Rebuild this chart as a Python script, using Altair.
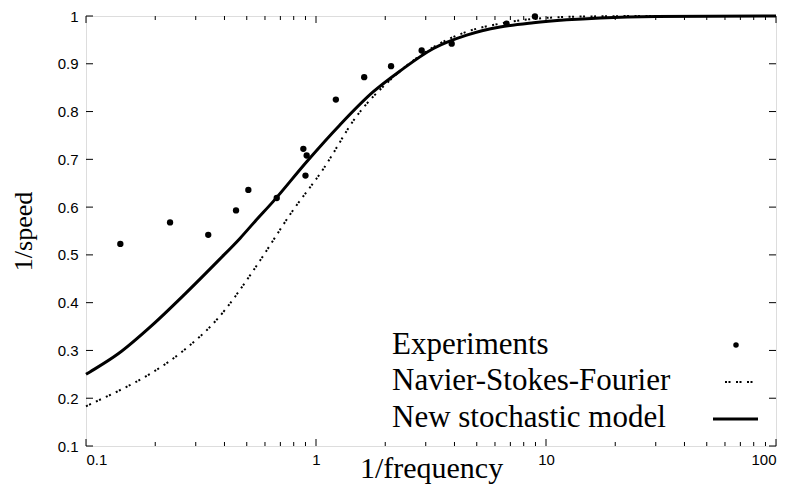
import altair as alt
import pandas as pd

# Experimental points
exp_x = [0.141, 0.232, 0.34, 0.449, 0.508, 0.675, 0.881, 0.911, 0.90, 1.22, 1.62, 2.12, 2.88, 3.89, 6.74, 8.95]
exp_y = [0.523, 0.568, 0.542, 0.593, 0.636, 0.619, 0.722, 0.708, 0.666, 0.825, 0.872, 0.895, 0.928, 0.942, 0.984, 0.999]

# Navier-Stokes-Fourier (dotted)
nsf_x = [0.1, 0.104, 0.138, 0.193, 0.269, 0.376, 0.525, 0.58, 0.77, 1.08, 1.5, 2.1, 3.24, 4.52, 6.31, 8.81, 15.0, 30.0, 100.0]
nsf_y = [0.183, 0.187, 0.215, 0.253, 0.302, 0.368, 0.462, 0.493, 0.584, 0.681, 0.790, 0.866, 0.935, 0.967, 0.984, 0.994, 0.999, 1.0, 1.0]

# New stochastic model (solid)
nsm_x = [0.1, 0.104, 0.138, 0.193, 0.269, 0.376, 0.468, 0.543, 0.652, 0.911, 1.27, 1.77, 2.32, 3.24, 4.52, 6.31, 8.81, 12.3, 17.2, 30.0, 100.0]
nsm_y = [0.250, 0.255, 0.293, 0.352, 0.418, 0.488, 0.535, 0.570, 0.612, 0.695, 0.772, 0.841, 0.885, 0.932, 0.960, 0.977, 0.986, 0.992, 0.996, 0.999, 1.0]

x_major = [0.1, 1, 10, 100]
x_minor = [0.2, 0.3, 0.4, 0.5, 0.6, 0.7, 0.8, 0.9, 2, 3, 4, 5, 6, 7, 8, 9, 20, 30, 40, 50, 60, 70, 80, 90]
y_ticks = [0.1, 0.2, 0.3, 0.4, 0.5, 0.6, 0.7, 0.8, 0.9, 1.0]

legend_labels = ["Experiments", "Navier-Stokes-Fourier", "New stochastic model"]

W, H = 690, 430
SERIF = "Liberation Serif"
SANS = "Liberation Sans"

xs = alt.Scale(type="log", domain=[0.1, 100], nice=False)
ys = alt.Scale(domain=[0.1, 1.0], nice=False, zero=False)

xaxis = alt.Axis(values=x_major, format="~g", ticks=False, tickSize=0, grid=False, domain=False,
                 labelFont=SANS, labelFontSize=15, labelColor="black", labelPadding=6,
                 title="1/frequency", titleFont=SERIF, titleFontSize=30, titleFontWeight="normal",
                 titleColor="black", titleY=31, titleBaseline="alphabetic")
yaxis = alt.Axis(values=y_ticks, format="~g", ticks=False, tickSize=0, grid=False, domain=False,
                 labelFont=SANS, labelFontSize=15, labelColor="black", labelPadding=8,
                 title="1/speed", titleFont=SERIF, titleFontSize=26, titleFontWeight="normal",
                 titleColor="black", titlePadding=21)

df_exp = pd.DataFrame({"x": exp_x, "y": exp_y})
df_nsf = pd.DataFrame({"x": nsf_x, "y": nsf_y})
df_nsm = pd.DataFrame({"x": nsm_x, "y": nsm_y})

pts = alt.Chart(df_exp).mark_circle(color="black", size=40, opacity=1).encode(
    x=alt.X("x:Q", scale=xs, axis=xaxis),
    y=alt.Y("y:Q", scale=ys, axis=yaxis),
)
nsf = alt.Chart(df_nsf).mark_line(color="black", strokeWidth=2, strokeDash=[2, 1.5, 2, 5.5],
                                  interpolate="monotone").encode(
    x=alt.X("x:Q", scale=xs), y=alt.Y("y:Q", scale=ys))
nsm = alt.Chart(df_nsm).mark_line(color="black", strokeWidth=3, interpolate="monotone").encode(
    x=alt.X("x:Q", scale=xs), y=alt.Y("y:Q", scale=ys))

# inward ticks (gnuplot style)
df_xmaj = pd.DataFrame({"v": x_major})
df_xmin = pd.DataFrame({"v": x_minor})
df_y = pd.DataFrame({"v": y_ticks})

def xticks(df, length):
    b = alt.Chart(df).mark_rule(color="black", strokeWidth=1).encode(
        x=alt.X("v:Q", scale=xs), y=alt.value(H), y2=alt.value(H - length))
    t = alt.Chart(df).mark_rule(color="black", strokeWidth=1).encode(
        x=alt.X("v:Q", scale=xs), y=alt.value(0), y2=alt.value(length))
    return [b, t]

def yticks(df, length):
    l = alt.Chart(df).mark_rule(color="black", strokeWidth=1).encode(
        y=alt.Y("v:Q", scale=ys), x=alt.value(0), x2=alt.value(length))
    r = alt.Chart(df).mark_rule(color="black", strokeWidth=1).encode(
        y=alt.Y("v:Q", scale=ys), x=alt.value(W), x2=alt.value(W - length))
    return [l, r]

ticks = xticks(df_xmaj, 7) + xticks(df_xmin, 4) + yticks(df_y, 7)

# legend (inside, bottom right, labels left of symbols)
def ltext(label, yb):
    return alt.Chart(pd.DataFrame({"t": [label]})).mark_text(
        align="left", baseline="alphabetic", font=SERIF, fontSize=31, color="black"
    ).encode(text="t:N", x=alt.value(306), y=alt.value(yb))

leg = [ltext(legend_labels[0], 338), ltext(legend_labels[1], 374), ltext(legend_labels[2], 411)]
leg_dot = alt.Chart(pd.DataFrame({"a": [0]})).mark_circle(color="black", size=30, opacity=1).encode(
    x=alt.value(650), y=alt.value(329))
leg_dotted = alt.Chart(pd.DataFrame({"a": [0]})).mark_rule(color="black", strokeWidth=2, strokeDash=[2, 1.5, 2, 5.5]).encode(
    x=alt.value(639), x2=alt.value(671), y=alt.value(366))
leg_solid = alt.Chart(pd.DataFrame({"a": [0]})).mark_rule(color="black", strokeWidth=3).encode(
    x=alt.value(627), x2=alt.value(672), y=alt.value(403))

chart = alt.layer(nsf, nsm, pts, *ticks, *leg, leg_dot, leg_dotted, leg_solid).properties(
    width=W, height=H,
    autosize=alt.AutoSizeParams(type="none"),
    padding={"left": 78, "top": 8, "right": 9, "bottom": 38},
).configure_view(stroke="black", strokeWidth=1.5).configure(background="white")

chart.save("out.html", embed_options={"renderer": "svg", "actions": False})
